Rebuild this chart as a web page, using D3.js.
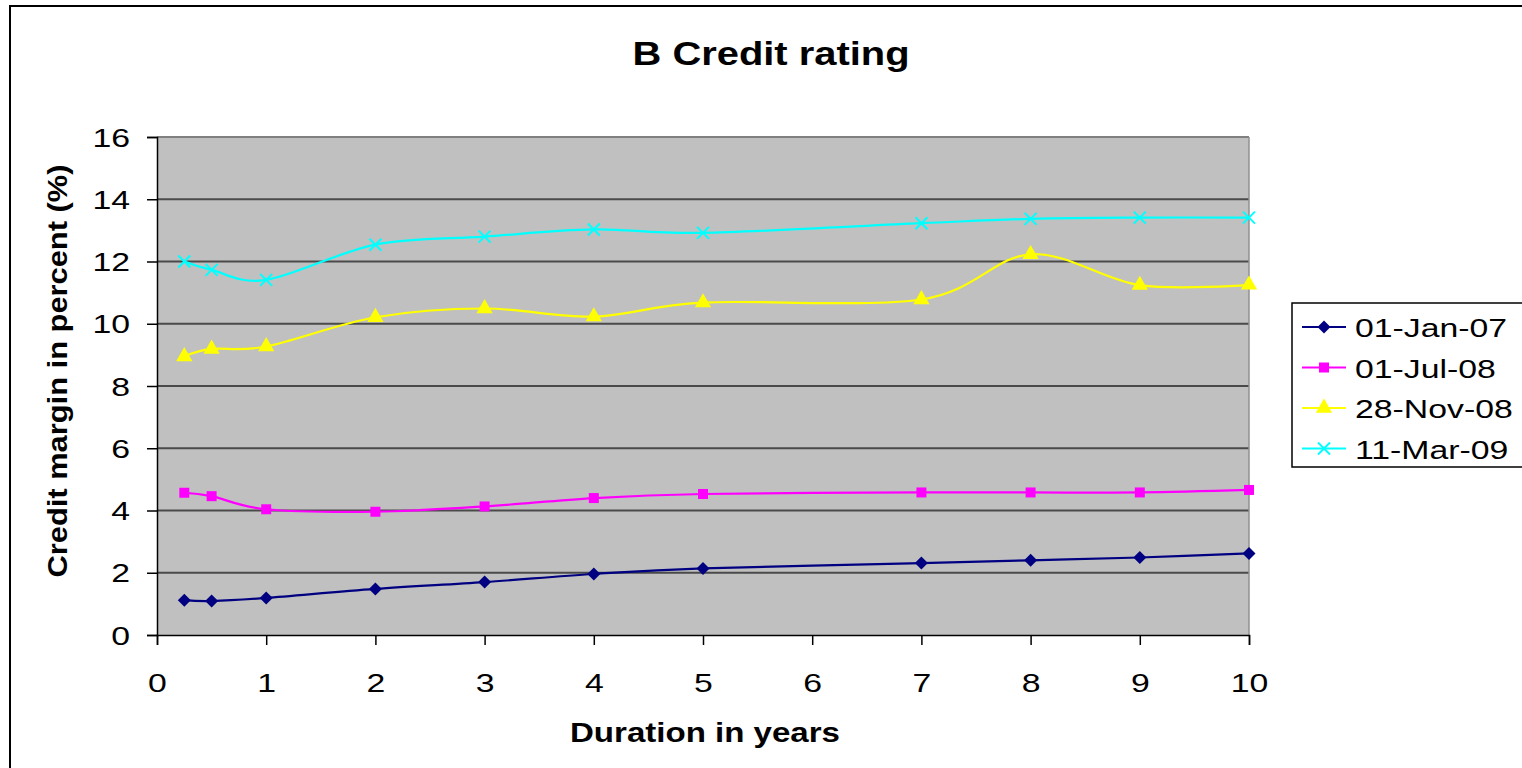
<!DOCTYPE html>
<html>
<head>
<meta charset="utf-8">
<script src="https://cdn.jsdelivr.net/npm/d3@7"></script>
<style>
  html, body { margin: 0; padding: 0; background: #fff; overflow: hidden; }
  svg { display: block; }
  text { font-family: "Liberation Sans", Arial, sans-serif; fill: #000; }
</style>
</head>
<body>
<svg id="chart" width="1522" height="768"></svg>
<script>
// Durations (years) at which credit margins were quoted
const durations = [0.25, 0.5, 1, 2, 3, 4, 5, 7, 8, 9, 10];

// Credit margin in percent, one array per quote date
const jan07 = [1.12, 1.09, 1.19, 1.48, 1.70, 1.96, 2.14, 2.31, 2.40, 2.49, 2.62];
const jul08 = [4.57, 4.46, 4.04, 3.96, 4.13, 4.40, 4.53, 4.58, 4.58, 4.58, 4.66];
const nov08 = [8.95, 9.19, 9.27, 10.21, 10.49, 10.23, 10.68, 10.78, 12.23, 11.24, 11.25];
const mar09 = [12.00, 11.73, 11.41, 12.54, 12.80, 13.03, 12.92, 13.23, 13.37, 13.41, 13.41];

const seriesNames = ["01-Jan-07", "01-Jul-08", "28-Nov-08", "11-Mar-09"];
const xTicks = [0, 1, 2, 3, 4, 5, 6, 7, 8, 9, 10];
const yTicks = [0, 2, 4, 6, 8, 10, 12, 14, 16];

const titleText = "B Credit rating";
const xTitleText = "Duration in years";
const yTitleText = "Credit margin in percent (%)";

const series = [
  { name: seriesNames[0], values: jan07, color: "#000080", marker: "diamond" },
  { name: seriesNames[1], values: jul08, color: "#FF00FF", marker: "square" },
  { name: seriesNames[2], values: nov08, color: "#FFFF00", marker: "triangle" },
  { name: seriesNames[3], values: mar09, color: "#00FFFF", marker: "cross" }
];

const svg = d3.select("#chart");
const plot = { left: 157, right: 1249, top: 137, bottom: 635 };
const SX = 1.3; // horizontal stretch of the label glyphs

const x = d3.scaleLinear().domain([0, 10]).range([plot.left, plot.right]);
const y = d3.scaleLinear().domain([0, 16]).range([plot.bottom, plot.top]);

// Chart area frame
svg.append("rect")
  .attr("x", 10).attr("y", 6)
  .attr("width", 1560).attr("height", 800)
  .attr("fill", "#fff").attr("stroke", "#000").attr("stroke-width", 2);

// Plot area background
svg.append("rect")
  .attr("x", plot.left).attr("y", plot.top)
  .attr("width", plot.right - plot.left).attr("height", plot.bottom - plot.top)
  .attr("fill", "#C0C0C0");

// Horizontal gridlines
svg.append("g")
  .selectAll("line")
  .data(yTicks.filter(d => d > 0))
  .join("line")
  .attr("x1", plot.left).attr("x2", plot.right)
  .attr("y1", d => y(d)).attr("y2", d => y(d))
  .attr("stroke", d => d === 16 ? "#808080" : "#4a4a4a")
  .attr("stroke-width", 2);

// Right border of the plot area
svg.append("line")
  .attr("x1", plot.right).attr("x2", plot.right)
  .attr("y1", plot.top).attr("y2", plot.bottom)
  .attr("stroke", "#909090").attr("stroke-width", 1.5);

// Axes
const yAxis = d3.axisLeft(y).tickValues(yTicks).tickSize(10).tickPadding(0).tickFormat(d3.format("d"));
const xAxis = d3.axisBottom(x).tickValues(xTicks).tickSize(10).tickPadding(0).tickFormat(d3.format("d"));

const gy = svg.append("g").attr("transform", `translate(${plot.left},0)`).call(yAxis);
const gx = svg.append("g").attr("transform", `translate(0,${plot.bottom})`).call(xAxis);

[gx, gy].forEach(g => {
  g.select(".domain").attr("stroke", "#000").attr("stroke-width", 1.5);
  g.selectAll(".tick line").attr("stroke", "#000").attr("stroke-width", 1.5);
});

gy.selectAll(".tick text")
  .attr("x", null).attr("dy", null)
  .attr("font-size", 26)
  .attr("text-anchor", "end")
  .attr("transform", `translate(-27,9) scale(${SX},1)`);

gx.selectAll(".tick text")
  .attr("y", null).attr("dy", null)
  .attr("font-size", 26)
  .attr("text-anchor", "middle")
  .attr("transform", `translate(0,57) scale(${SX},1)`);

// Smoothed series lines
const line = d3.line()
  .x((d, i) => x(durations[i]))
  .y(d => y(d))
  .curve(d3.curveCardinal.tension(0));

// Marker shapes, centred on the origin
const markerPath = {
  diamond: "M0,-6.5L6.5,0L0,6.5L-6.5,0Z",
  square: d3.symbol().type(d3.symbolSquare).size(100)(),
  triangle: d3.symbol().type(d3.symbolTriangle).size(115)(),
  cross: "M-6,-6L6,6M-6,6L6,-6"
};

function drawMarker(g, s) {
  const path = g.append("path").attr("d", markerPath[s.marker]);
  if (s.marker === "cross") {
    path.attr("fill", "none").attr("stroke", s.color).attr("stroke-width", 2);
  } else {
    path.attr("fill", s.color).attr("stroke", "none");
  }
  return path;
}

const seriesG = svg.append("g");
series.forEach(s => {
  seriesG.append("path")
    .datum(s.values)
    .attr("d", line)
    .attr("fill", "none")
    .attr("stroke", s.color)
    .attr("stroke-width", 2.2);
  s.values.forEach((v, i) => {
    const m = seriesG.append("g").attr("transform", `translate(${x(durations[i])},${y(v)})`);
    drawMarker(m, s);
  });
});

// Title
svg.append("text")
  .attr("x", 771).attr("y", 65)
  .attr("text-anchor", "middle")
  .attr("font-size", 33).attr("font-weight", "bold")
  .attr("textLength", 277).attr("lengthAdjust", "spacingAndGlyphs")
  .text(titleText);

// Axis titles
svg.append("text")
  .attr("x", 705).attr("y", 742)
  .attr("text-anchor", "middle")
  .attr("font-size", 28).attr("font-weight", "bold")
  .attr("textLength", 270).attr("lengthAdjust", "spacingAndGlyphs")
  .text(xTitleText);

svg.append("text")
  .attr("transform", "translate(67,371) rotate(-90)")
  .attr("text-anchor", "middle")
  .attr("font-size", 28).attr("font-weight", "bold")
  .attr("textLength", 413).attr("lengthAdjust", "spacingAndGlyphs")
  .text(yTitleText);

// Legend
const legend = svg.append("g");
legend.append("rect")
  .attr("x", 1292).attr("y", 303)
  .attr("width", 240).attr("height", 164)
  .attr("fill", "#fff").attr("stroke", "#000").attr("stroke-width", 1.5);

series.forEach((s, i) => {
  const cy = 327 + i * 40.5;
  legend.append("line")
    .attr("x1", 1302).attr("x2", 1346)
    .attr("y1", cy).attr("y2", cy)
    .attr("stroke", s.color).attr("stroke-width", 2);
  const m = legend.append("g").attr("transform", `translate(1324,${cy})`);
  drawMarker(m, s);
  legend.append("text")
    .attr("transform", `translate(1355,${cy + 10}) scale(${SX},1)`)
    .attr("font-size", 26)
    .text(s.name);
});
</script>
</body>
</html>
